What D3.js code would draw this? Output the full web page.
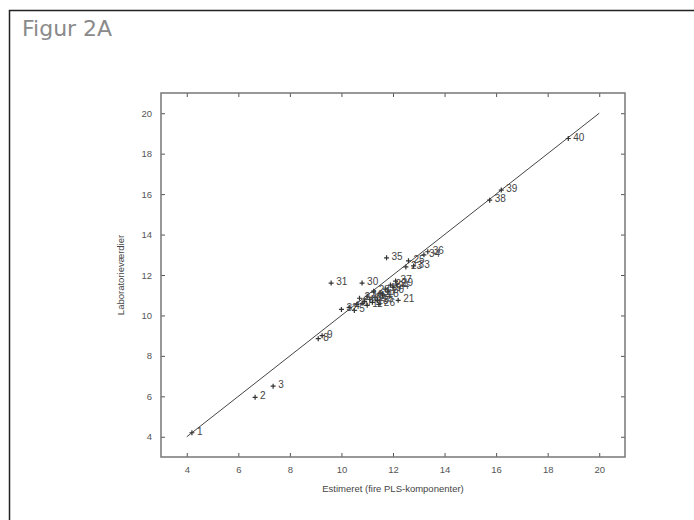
<!DOCTYPE html>
<html>
<head>
<meta charset="utf-8">
<script src="https://cdn.jsdelivr.net/npm/d3@7"></script>
<style>
    body { margin: 0; background: #fff; }
    .tick text { font-family: "Liberation Sans", Arial, sans-serif; font-size: 9.5px; fill: #555; }
    .tick line { stroke: #555; }
</style>
</head>
<body>
<script>
// Point labels, estimated values (x) and laboratory values (y)
var labels = [1, 2, 3, 4, 5, 6, 7, 8, 9, 10,
              11, 12, 13, 14, 15, 16, 17, 18, 19, 20,
              21, 22, 23, 24, 25, 26, 27, 28, 29, 30,
              31, 32, 33, 34, 35, 36, 37, 38, 39, 40];
var estimated = [4.2, 6.65, 7.35, 10.3, 10.5, 10.6, 10.8, 9.1, 9.25, 10.9,
                 11.0, 11.1, 11.2, 11.3, 11.4, 11.0, 11.5, 11.6, 11.7, 11.8,
                 12.2, 11.9, 12.5, 12.0, 12.6, 11.45, 10.7, 11.25, 12.15, 10.8,
                 9.6, 10.0, 12.8, 13.2, 11.75, 13.35, 12.1, 15.75, 16.2, 18.8];
var observed = [4.2, 5.95, 6.5, 10.4, 10.25, 10.55, 10.6, 8.85, 9.0, 10.7,
                10.5, 10.8, 10.65, 10.9, 10.75, 10.95, 11.1, 11.0, 11.3, 11.2,
                10.75, 11.5, 12.4, 11.4, 12.7, 10.55, 10.85, 11.2, 11.55, 11.6,
                11.6, 10.3, 12.45, 13.0, 12.85, 13.15, 11.7, 15.7, 16.2, 18.75];
var ticks = [4, 6, 8, 10, 12, 14, 16, 18, 20];

var W = 694, H = 520;
var margin = {top: 93, right: 69, bottom: 63, left: 161},
    width = W - margin.left - margin.right,
    height = H - margin.top - margin.bottom;

var root = d3.select("body").append("svg")
    .attr("width", W)
    .attr("height", H);

// outer frame and title
root.append("rect")
    .attr("x", 9.5).attr("y", 10.5)
    .attr("width", W).attr("height", H)
    .attr("fill", "none")
    .attr("stroke", "#222")
    .attr("stroke-width", 1.5);

root.append("text")
    .attr("x", 22).attr("y", 36)
    .attr("font-family", "DejaVu Sans, sans-serif")
    .attr("font-size", "22px")
    .attr("fill", "#8a8a8a")
    .text("Figur 2A");

var svg = root.append("g")
    .attr("transform", "translate(" + margin.left + "," + margin.top + ")");

var xScale = d3.scaleLinear().domain([3, 21]).range([0, width]);
var yScale = d3.scaleLinear().domain([3, 21]).range([height, 0]);

// ticks pointing inward on all four sides
svg.append("g")
    .attr("transform", "translate(0," + height + ")")
    .call(d3.axisBottom(xScale).tickValues(ticks).tickSize(-4).tickPadding(9))
    .call(function(g) { g.select(".domain").remove(); });
svg.append("g")
    .call(d3.axisTop(xScale).tickValues(ticks).tickSize(-4).tickFormat(""))
    .call(function(g) { g.select(".domain").remove(); });
svg.append("g")
    .call(d3.axisLeft(yScale).tickValues(ticks).tickSize(-4).tickPadding(9))
    .call(function(g) { g.select(".domain").remove(); });
svg.append("g")
    .attr("transform", "translate(" + width + ",0)")
    .call(d3.axisRight(yScale).tickValues(ticks).tickSize(-4).tickFormat(""))
    .call(function(g) { g.select(".domain").remove(); });

svg.append("rect")
    .attr("width", width).attr("height", height)
    .attr("fill", "none")
    .attr("stroke", "#777")
    .attr("stroke-width", 1.5);

// y = x reference line
svg.append("line")
    .attr("x1", xScale(4)).attr("y1", yScale(4))
    .attr("x2", xScale(20)).attr("y2", yScale(20))
    .attr("stroke", "#444")
    .attr("stroke-width", 1);

var data = labels.map(function(d, i) {
    return {label: d, x: estimated[i], y: observed[i]};
});

var pts = svg.selectAll("g.pt")
    .data(data)
    .enter()
    .append("g")
    .attr("class", "pt")
    .attr("transform", function(d) {
        return "translate(" + xScale(d.x) + "," + yScale(d.y) + ")";
    });

pts.append("path")
    .attr("d", "M-2.5,0H2.5M0,-2.5V2.5")
    .attr("stroke", "#333")
    .attr("stroke-width", 1.2);

pts.append("text")
    .attr("x", 5).attr("y", 2)
    .attr("font-family", "Liberation Sans, Arial, sans-serif")
    .attr("font-size", "10px")
    .attr("fill", "#444")
    .text(function(d) { return d.label; });

// axis labels
svg.append("text")
    .attr("x", width / 2).attr("y", height + 35)
    .attr("text-anchor", "middle")
    .attr("font-family", "Liberation Sans, Arial, sans-serif")
    .attr("font-size", "9.5px")
    .attr("fill", "#444")
    .text("Estimeret (fire PLS-komponenter)");

svg.append("text")
    .attr("transform", "rotate(-90)")
    .attr("x", -height / 2 + 0).attr("y", -37)
    .attr("text-anchor", "middle")
    .attr("font-family", "Liberation Sans, Arial, sans-serif")
    .attr("font-size", "9.5px")
    .attr("fill", "#444")
    .text("Laboratorieværdier");
</script>
</body>
</html>
